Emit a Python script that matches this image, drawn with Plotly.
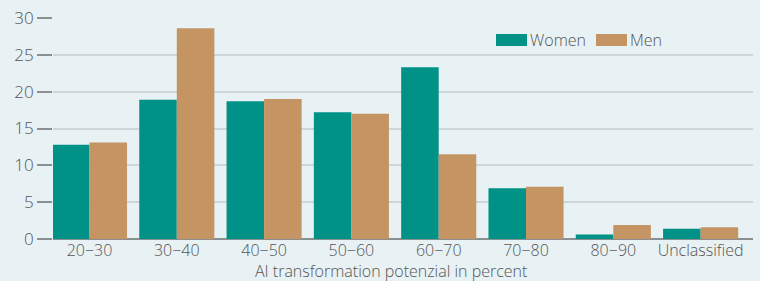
import plotly.graph_objects as go

categories = ["20−30", "30−40", "40−50", "50−60", "60−70", "70−80", "80−90", "Unclassified"]
women = [12.8, 18.9, 18.7, 17.2, 23.3, 6.9, 0.6, 1.4]
men = [13.1, 28.6, 19.0, 17.0, 11.5, 7.1, 1.9, 1.6]
y_ticks = [0, 5, 10, 15, 20, 25, 30]

TEAL = "#009187"
TAN = "#c49463"
BG = "#e8f1f3"
TXT = "#555555"
FONT = "Open Sans"
WT = 300

fig = go.Figure()
fig.add_trace(go.Bar(x=categories, y=women, name="Women", marker=dict(color=TEAL, line=dict(width=0))))
fig.add_trace(go.Bar(x=categories, y=men, name="Men", marker=dict(color=TAN, line=dict(width=0))))

W, H = 760, 281
ml, mr, mt, mb = 53, 7, 18, 42
fnt = dict(size=17, color=TXT, family=FONT, weight=WT)
fntx = dict(size=16, color=TXT, family=FONT, weight=WT)
fnt2 = dict(size=16, color=TXT, family=FONT, weight=WT)
fig.update_layout(
    width=W, height=H,
    margin=dict(l=ml, r=mr, t=mt, b=mb, pad=0),
    paper_bgcolor=BG, plot_bgcolor=BG,
    barmode="group", bargap=0.14, bargroupgap=0,
    showlegend=False,
    font=fnt,
    xaxis=dict(
        type="category", range=[-0.418, 7.6],
        showgrid=False, ticks="", showline=False, zeroline=False,
        tickfont=fntx,
    ),
    yaxis=dict(
        range=[0, 30], tickvals=y_ticks, ticks="outside", ticklen=15, tickwidth=2,
        tickcolor="#8a8f91", showgrid=True, gridcolor="#cfd6d9", gridwidth=2,
        zeroline=True, zerolinecolor="#8a8f91", zerolinewidth=2, showline=False,
        tickfont=fnt,
    ),
)

def px_x(x):
    return (x - ml) / (W - ml - mr)

def px_y(y):
    return ((H - mb) - y) / (H - mt - mb)

# axis title
fig.add_annotation(
    text="AI transformation potenzial in percent", xref="paper", yref="paper",
    x=px_x(391), y=px_y(271),
    xanchor="center", yanchor="middle", showarrow=False,
    font=fnt2,
)

# manual legend
for x0, x1, col, label, tx in [(496, 527, TEAL, "Women", 528), (596, 627, TAN, "Men", 628)]:
    fig.add_shape(type="rect", xref="paper", yref="paper",
                  x0=px_x(x0), x1=px_x(x1), y0=px_y(46), y1=px_y(34),
                  fillcolor=col, line=dict(width=0))
    fig.add_annotation(text=label, xref="paper", yref="paper", x=px_x(tx), y=px_y(40),
                       xanchor="left", yanchor="middle", showarrow=False,
                       font=fnt2)

fig.write_html("out.html", config={"displayModeBar": False},
               post_script="document.body.style.margin='0';document.body.style.padding='0';")
